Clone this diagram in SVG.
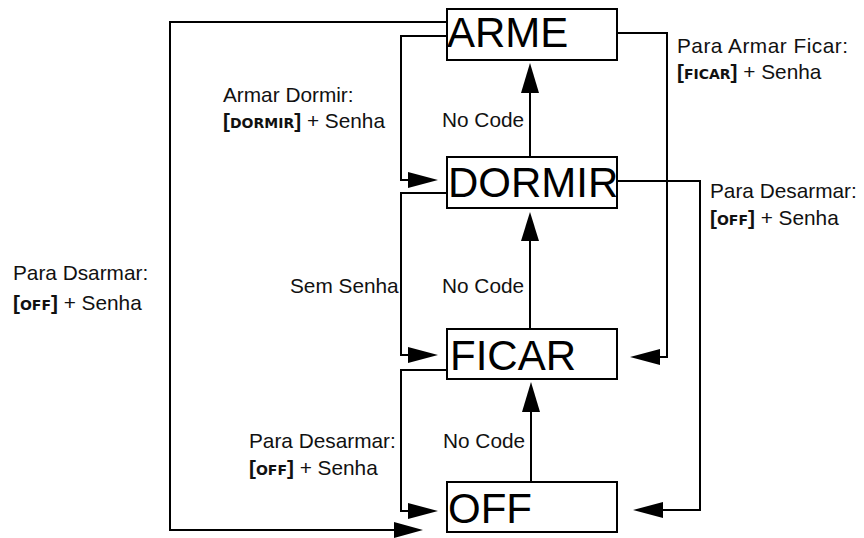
<svg xmlns="http://www.w3.org/2000/svg" width="864" height="538" viewBox="0 0 864 538">
<style>
.box{fill:#fff;stroke:#000;stroke-width:2}
.big{font-family:"Liberation Sans",Arial,sans-serif;font-size:42px;fill:#000}
.lbl{font-family:"Liberation Sans",Arial,sans-serif;font-size:20.8px;fill:#111}
.key{font-family:"DejaVu Sans",sans-serif;font-weight:bold;font-size:14px}
.br{font-weight:bold;font-size:20.8px}
.ln{fill:none;stroke:#000;stroke-width:2}
.ah{fill:#000}
</style>
<rect width="864" height="538" fill="#fff"/>
<g id="connectors">
<path class="ln" d="M447,22 H170 V530 H395"/>
<polygon class="ah" points="394,522 423,530 394,538"/>
<path class="ln" d="M447,36 H401 V180 H410"/>
<polygon class="ah" points="408,172 438,180 408,188"/>
<path class="ln" d="M447,193 H401 V355 H410"/>
<polygon class="ah" points="408,347 438,355 408,363"/>
<path class="ln" d="M447,370 H401 V511 H410"/>
<polygon class="ah" points="408,503 438,511 408,519"/>
<path class="ln" d="M617,33 H667 V357 H658"/>
<polygon class="ah" points="660,349 630,357 660,365"/>
<path class="ln" d="M617,181 H700 V510 H661"/>
<polygon class="ah" points="663,502 633,510 663,518"/>
<path class="ln" d="M530,157 V90"/>
<polygon class="ah" points="521,93 530,63 539,93"/>
<path class="ln" d="M530,329 V238"/>
<polygon class="ah" points="521,241 530,212 539,241"/>
<path class="ln" d="M531,482 V410"/>
<polygon class="ah" points="522,412 531,382 540,412"/>
</g>
<g id="node-arme">
<rect class="box" x="447" y="9" width="170" height="51"/>
<text class="big" x="447" y="47">ARME</text>
</g>
<g id="node-dormir">
<rect class="box" x="447" y="157" width="170" height="51"/>
<text class="big" x="448" y="197">DORMIR</text>
</g>
<g id="node-ficar">
<rect class="box" x="447" y="329" width="170" height="50"/>
<text class="big" x="450" y="370">FICAR</text>
</g>
<g id="node-off">
<rect class="box" x="447" y="482" width="170" height="50"/>
<text class="big" x="448" y="523">OFF</text>
</g>
<g id="labels">
<text class="lbl" x="223" y="102">Armar Dormir:</text>
<text class="lbl" x="223" y="128"><tspan class="br">[</tspan><tspan class="key">DORMIR</tspan><tspan class="br">]</tspan> + Senha</text>
<text class="lbl" x="442" y="127">No Code</text>
<text class="lbl" x="677" y="53" letter-spacing="0.5">Para Armar Ficar:</text>
<text class="lbl" x="677" y="79"><tspan class="br">[</tspan><tspan class="key">FICAR</tspan><tspan class="br">]</tspan> + Senha</text>
<text class="lbl" x="710" y="198">Para Desarmar:</text>
<text class="lbl" x="710" y="225"><tspan class="br">[</tspan><tspan class="key">OFF</tspan><tspan class="br">]</tspan> + Senha</text>
<text class="lbl" x="442" y="293">No Code</text>
<text class="lbl" x="290" y="293">Sem Senha</text>
<text class="lbl" x="13" y="280">Para Dsarmar:</text>
<text class="lbl" x="13" y="310"><tspan class="br">[</tspan><tspan class="key">OFF</tspan><tspan class="br">]</tspan> + Senha</text>
<text class="lbl" x="249" y="448">Para Desarmar:</text>
<text class="lbl" x="249" y="475"><tspan class="br">[</tspan><tspan class="key">OFF</tspan><tspan class="br">]</tspan> + Senha</text>
<text class="lbl" x="443" y="448">No Code</text>
</g>
</svg>
